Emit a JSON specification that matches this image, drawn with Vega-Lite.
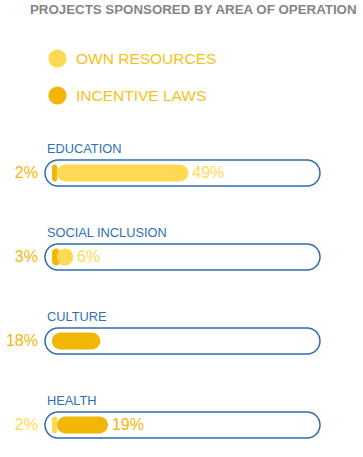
{
  "$schema": "https://vega.github.io/schema/vega-lite/v6.json",
  "autosize": "none",
  "width": 275,
  "height": 252,
  "padding": {"left": 45, "top": 173, "right": 43, "bottom": 32},
  "title": {
    "text": "PROJECTS SPONSORED BY AREA OF OPERATION",
    "anchor": "start",
    "frame": "group",
    "dx": -15,
    "dy": -29,
    "font": "Liberation Sans",
    "fontSize": 13.3,
    "fontWeight": "bold",
    "color": "#858585"
  },
  "data": {
    "values": [
      {"area": "EDUCATION", "source": "INCENTIVE LAWS", "share": 0.02},
      {"area": "EDUCATION", "source": "OWN RESOURCES", "share": 0.49},
      {"area": "SOCIAL INCLUSION", "source": "INCENTIVE LAWS", "share": 0.03},
      {"area": "SOCIAL INCLUSION", "source": "OWN RESOURCES", "share": 0.06},
      {"area": "CULTURE", "source": "INCENTIVE LAWS", "share": 0.18},
      {"area": "HEALTH", "source": "OWN RESOURCES", "share": 0.02},
      {"area": "HEALTH", "source": "INCENTIVE LAWS", "share": 0.19}
    ]
  },
  "transform": [
    {"window": [{"op": "row_number", "as": "rank"}], "groupby": ["area"], "sort": [{"field": "share", "order": "ascending"}]}
  ],
  "encoding": {
    "y": {
      "field": "area",
      "type": "nominal",
      "sort": ["EDUCATION", "SOCIAL INCLUSION", "CULTURE", "HEALTH"],
      "scale": {"type": "point", "padding": 0},
      "axis": null
    }
  },
  "layer": [
    {
      "transform": [{"aggregate": [{"op": "count", "as": "n"}], "groupby": ["area"]}],
      "mark": {"type": "bar", "size": 26, "cornerRadius": 13, "fill": "#ffffff", "stroke": "#2F6CAE", "strokeWidth": 1.5},
      "encoding": {
        "x": {"datum": -0.0261, "type": "quantitative", "scale": {"domain": [-0.0261, 1], "nice": false, "zero": false}, "axis": null},
        "x2": {"datum": 1}
      }
    },
    {
      "transform": [{"aggregate": [{"op": "count", "as": "n"}], "groupby": ["area"]}],
      "mark": {"type": "text", "align": "left", "baseline": "middle", "dx": -5, "dy": -24, "font": "Liberation Sans", "fontSize": 12.8, "color": "#2F6FBA"},
      "encoding": {
        "x": {"datum": 0, "type": "quantitative"},
        "text": {"field": "area"}
      }
    },
    {
      "transform": [{"filter": "datum.rank == 1"}],
      "mark": {"type": "bar", "size": 17, "cornerRadius": 8.5},
      "encoding": {
        "x": {"field": "share", "type": "quantitative"},
        "x2": {"datum": 0},
        "color": {
          "field": "source",
          "type": "nominal",
          "scale": {"domain": ["OWN RESOURCES", "INCENTIVE LAWS"], "range": ["#FFD955", "#F2B705"]},
          "legend": {
            "title": null,
            "orient": "none",
            "legendX": 3,
            "legendY": -124,
            "padding": 0,
            "symbolType": "circle",
            "symbolSize": 330,
            "symbolStrokeWidth": 0,
            "symbolOpacity": 1,
            "rowPadding": 18,
            "labelOffset": 9,
            "labelFont": "Liberation Sans",
            "labelFontSize": 15.5,
            "labelColor": "#F4C21A",
            "labelLimit": 300
          }
        }
      }
    },
    {
      "transform": [{"filter": "datum.rank == 2"}],
      "mark": {"type": "bar", "size": 17, "cornerRadius": 8.5, "xOffset": 5, "x2Offset": 5},
      "encoding": {
        "x": {"field": "share", "type": "quantitative"},
        "x2": {"datum": 0},
        "color": {"field": "source", "type": "nominal"}
      }
    },
    {
      "transform": [{"filter": "datum.rank == 1"}],
      "mark": {"type": "text", "align": "right", "baseline": "middle", "dx": -14, "font": "Liberation Sans", "fontSize": 16},
      "encoding": {
        "x": {"datum": 0, "type": "quantitative"},
        "text": {"field": "share", "type": "quantitative", "format": ".0%"},
        "color": {"field": "source", "type": "nominal"}
      }
    },
    {
      "transform": [{"filter": "datum.rank == 2"}],
      "mark": {"type": "text", "align": "left", "baseline": "middle", "dx": 9, "font": "Liberation Sans", "fontSize": 16},
      "encoding": {
        "x": {"field": "share", "type": "quantitative"},
        "text": {"field": "share", "type": "quantitative", "format": ".0%"},
        "color": {"field": "source", "type": "nominal"}
      }
    }
  ],
  "config": {
    "view": {"stroke": null}
  }
}
